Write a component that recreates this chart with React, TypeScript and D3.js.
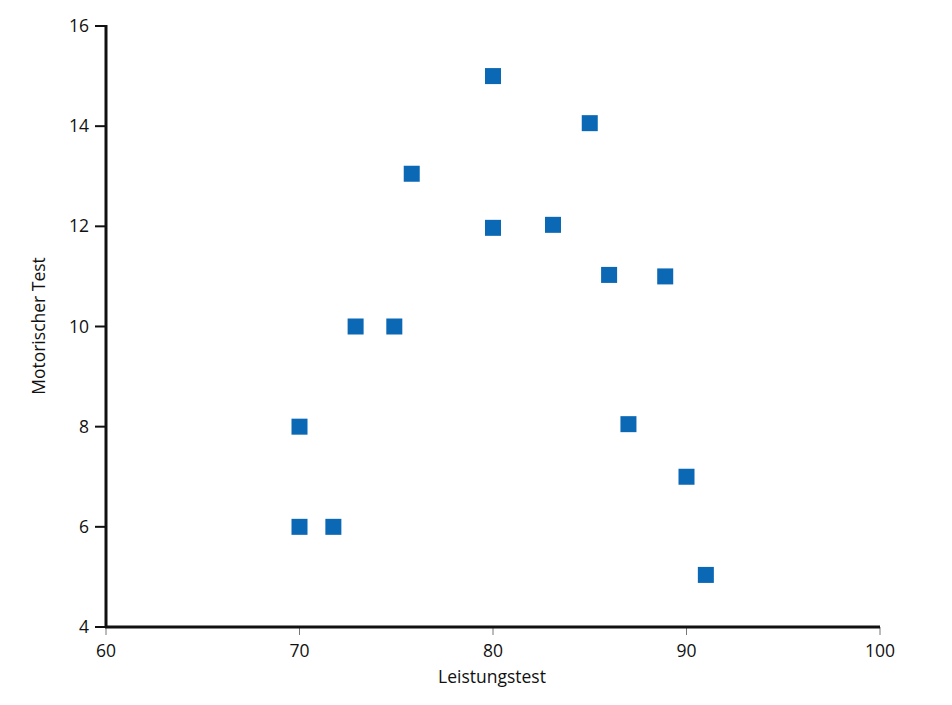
import React from "react";
import * as d3 from "d3";

const xValues = [70, 70, 71.75, 72.9, 74.9, 75.8, 80, 80, 83.1, 85, 86, 88.9, 87, 90, 91];
const yValues = [8, 6, 6, 10, 10, 13.05, 15, 11.97, 12.03, 14.06, 11.03, 11, 8.05, 7, 5.04];
const xTicks = [60, 70, 80, 90, 100];
const yTicks = [4, 6, 8, 10, 12, 14, 16];
const xLabel = "Leistungstest";
const yLabel = "Motorischer Test";

export default function App() {
  const W = 952, H = 705;
  const x = d3.scaleLinear().domain([60, 100]).range([106, 880]);
  const y = d3.scaleLinear().domain([4, 16]).range([627, 26]);
  const font = "'Open Sans', 'Noto Sans', sans-serif";
  const size = 17.5;
  return (
    <svg width={W} height={H} style={{ position: "absolute", left: 0, top: 0 }} fontFamily={font}>
      <rect width={W} height={H} fill="#fff" />
      {xTicks.map((t) => (
        <g key={"x" + t}>
          <line x1={x(t)} x2={x(t)} y1={627} y2={635} stroke="#777" strokeWidth={1} />
          <text x={x(t)} y={657} textAnchor="middle" fontSize={size} fill="#111">{t}</text>
        </g>
      ))}
      {yTicks.map((t) => (
        <g key={"y" + t}>
          <line x1={95} x2={106} y1={y(t)} y2={y(t)} stroke="#111" strokeWidth={2} />
          <text x={89} y={y(t)} dy="0.35em" textAnchor="end" fontSize={size} fill="#111">{t}</text>
        </g>
      ))}
      <line x1={106} x2={106} y1={25} y2={628} stroke="#111" strokeWidth={3} />
      <line x1={105} x2={880} y1={627} y2={627} stroke="#111" strokeWidth={3} />
      {xValues.map((v, i) => (
        <rect key={i} x={x(v) - 8} y={y(yValues[i]) - 8} width={16} height={16} fill="#0a68b4" />
      ))}
      <text x={492} y={683} textAnchor="middle" fontSize={size} fill="#111">{xLabel}</text>
      <text transform="translate(45,326) rotate(-90)" textAnchor="middle" fontSize={size} fill="#111">{yLabel}</text>
    </svg>
  );
}
